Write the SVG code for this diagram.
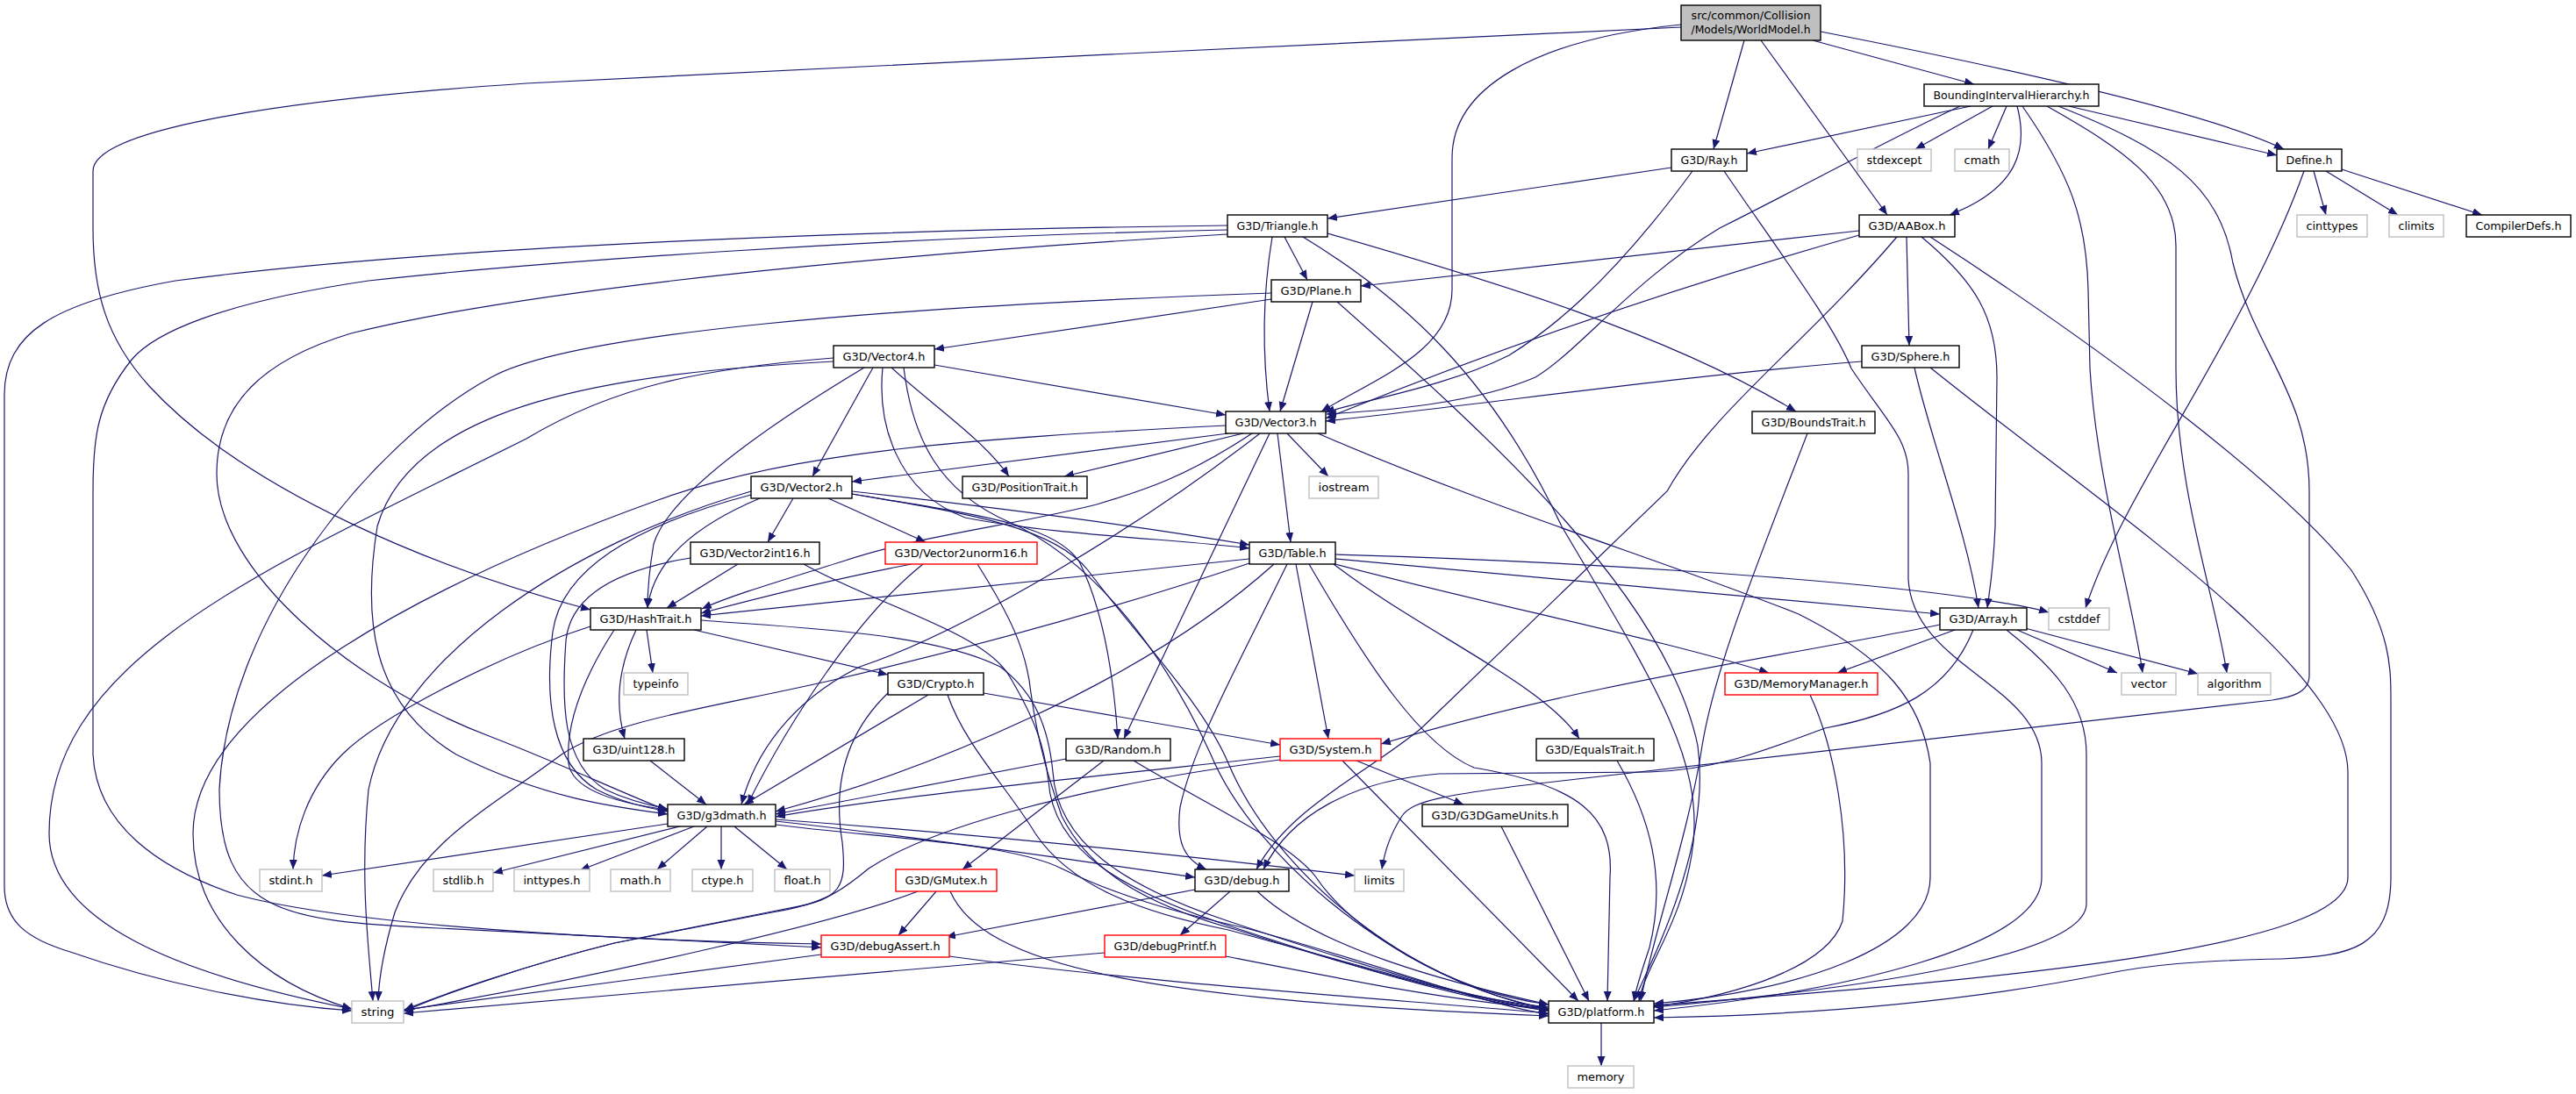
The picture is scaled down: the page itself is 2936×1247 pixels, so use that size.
<svg xmlns="http://www.w3.org/2000/svg" width="2936" height="1247" viewBox="0 0 2936 1247">
<defs>
<marker id="a" markerUnits="userSpaceOnUse" markerWidth="12" markerHeight="10" refX="11" refY="4.5" orient="auto"><path d="M0,0 L11,4.5 L0,9 z" fill="#191970"/></marker>
<style>
.n rect{fill:#fff;stroke:#000;stroke-width:1.4}
.g rect{stroke:#bfbfbf}
.r rect{stroke:#ff0000}
.root rect{fill:#bfbfbf}
text{font-family:"DejaVu Sans Condensed","DejaVu Sans",sans-serif;font-size:13px;text-anchor:middle;fill:#000}
#edges path{fill:none;stroke:#191970;stroke-width:1.2;marker-end:url(#a)}
</style>
</defs>
<rect width="2936" height="1247" fill="#fff"/>
<g id="edges">
<path d="M1916,31 C1500,50 1000,75 600,95 C300,115 106,150 106,195 L106,260 C106,330 120,385 170,440 C280,560 500,650 673,695"/>
<path d="M1988,46 L1953,170"/>
<path d="M2007,46 L2151,245"/>
<path d="M2066,46 L2250,96"/>
<path d="M2075,36 C2300,80 2520,130 2603,170"/>
<path d="M1916,28 C1750,45 1655,100 1655,180 L1655,330 C1655,400 1570,430 1506,469"/>
<path d="M2246,121 L1991,175"/>
<path d="M2234,121 C2150,160 2060,210 1960,260 C1860,320 1800,400 1750,430 C1680,460 1580,468 1512,472"/>
<path d="M2271,121 L2183,170"/>
<path d="M2287,121 L2266,170"/>
<path d="M2299,121 C2312,170 2300,215 2222,245"/>
<path d="M2305,121 C2360,200 2378,250 2380,330 L2382,420 C2390,550 2430,680 2442,767"/>
<path d="M2333,121 C2420,170 2480,210 2480,280 L2480,420 C2480,560 2525,680 2538,767"/>
<path d="M2346,121 C2470,170 2529,210 2545,300 C2570,400 2632,450 2632,560 L2632,770 C2632,790 2610,795 2590,798 L1780,890 C1650,905 1610,912 1598,930 C1585,950 1578,970 1575,991"/>
<path d="M2358,121 L2595,177"/>
<path d="M1905,191 L1513,249"/>
<path d="M1929,195 C1830,330 1760,380 1720,405 C1650,440 1560,455 1510,470"/>
<path d="M1965,195 C2030,290 2090,370 2110,420 C2150,480 2175,500 2175,540 L2175,660 C2180,760 2327,780 2327,870 L2327,1000 C2327,1080 2100,1130 1885,1152"/>
<path d="M1399,257 C1000,262 500,280 200,320 C60,345 5,380 5,450 L5,1010 C5,1050 30,1070 80,1085 C180,1120 300,1145 401,1152"/>
<path d="M1399,262 C1000,270 600,300 420,320 C250,345 175,380 150,410 C110,460 106,500 106,560 L106,860 C110,940 180,990 270,1020 C400,1055 700,1072 936,1076"/>
<path d="M1399,267 C1000,290 600,330 400,380 C300,410 247,460 247,540 C247,650 400,780 560,840 C650,875 700,900 761,924"/>
<path d="M1450,270 C1440,330 1438,400 1447,469"/>
<path d="M1464,270 L1490,319"/>
<path d="M1485,270 C1600,340 1700,430 1780,600 C1880,770 1940,860 1930,960 C1920,1050 1875,1100 1868,1141"/>
<path d="M1513,266 C1700,320 1900,380 2047,469"/>
<path d="M1449,334 C1000,350 650,380 560,430 C430,500 260,700 250,900 C250,1040 320,1050 500,1058 L936,1080"/>
<path d="M1449,341 L1065,398"/>
<path d="M1496,344 L1459,469"/>
<path d="M1524,344 C1700,500 1900,680 1935,850 C1950,960 1890,1080 1862,1141"/>
<path d="M2119,263 L1551,326"/>
<path d="M2119,268 C1900,330 1700,400 1511,477"/>
<path d="M2162,270 C2060,390 1950,470 1900,560 L1620,830 C1560,880 1470,920 1432,991"/>
<path d="M2173,270 L2176,394"/>
<path d="M2190,270 C2250,320 2276,360 2276,430 L2274,600 C2272,650 2268,670 2265,693"/>
<path d="M2200,270 C2400,400 2600,550 2680,650 C2725,720 2725,760 2725,800 L2725,1000 C2725,1080 2680,1090 2600,1093 C2500,1095 2450,1100 2400,1110 C2200,1150 2000,1158 1885,1160"/>
<path d="M2122,412 C1900,430 1700,460 1511,480"/>
<path d="M2182,419 C2200,500 2240,600 2255,693"/>
<path d="M2200,419 C2400,580 2676,760 2676,880 L2676,1000 C2676,1080 2300,1115 1885,1146"/>
<path d="M2637,195 L2651,245"/>
<path d="M2651,195 L2733,245"/>
<path d="M2669,193 L2829,245"/>
<path d="M2626,195 C2560,380 2420,560 2377,693"/>
<path d="M1065,416 L1397,473"/>
<path d="M1016,419 C1060,460 1120,500 1150,543"/>
<path d="M1006,419 C1000,480 1020,560 1100,590 C1200,610 1350,615 1424,625"/>
<path d="M995,419 L926,543"/>
<path d="M985,419 C850,500 760,570 745,620 C740,650 738,670 738,693"/>
<path d="M950,412 C700,425 470,460 430,600 C414,700 420,800 520,860 C620,910 700,920 761,928"/>
<path d="M950,408 C800,420 700,440 600,500 C300,650 56,750 56,950 C56,1050 200,1110 401,1150"/>
<path d="M1030,419 C1040,500 1070,560 1150,595 C1250,640 1330,750 1380,860 C1430,980 1600,1120 1765,1150"/>
<path d="M1397,485 C1100,500 900,515 750,570 C500,660 220,800 220,950 C220,1050 300,1120 401,1150"/>
<path d="M1400,494 L971,549"/>
<path d="M1417,494 L1213,543"/>
<path d="M1427,494 C1350,545 1300,560 1250,575 C1150,600 1050,610 960,640 C880,665 830,680 800,694"/>
<path d="M1436,494 C1300,600 1100,720 980,760 C900,800 860,860 845,917"/>
<path d="M1447,494 L1281,842"/>
<path d="M1456,494 L1471,618"/>
<path d="M1467,494 L1514,543"/>
<path d="M1502,494 C1700,580 1900,640 2050,700 C2150,750 2190,800 2200,870 L2200,1000 C2200,1080 2050,1130 1885,1144"/>
<path d="M971,560 C1150,580 1300,600 1424,621"/>
<path d="M866,568 C790,600 745,640 738,693"/>
<path d="M904,568 L875,618"/>
<path d="M944,568 L1055,618"/>
<path d="M971,563 C1100,585 1200,595 1230,640 C1260,700 1270,780 1274,842"/>
<path d="M856,564 C720,600 640,650 630,720 C620,800 630,870 680,900 C710,915 735,920 761,925"/>
<path d="M856,560 C650,620 450,750 420,900 C410,1000 420,1080 425,1141"/>
<path d="M971,563 C1100,585 1200,600 1240,650 C1300,730 1370,800 1400,870 C1450,990 1600,1120 1765,1150"/>
<path d="M841,643 L760,693"/>
<path d="M787,636 C700,650 650,680 645,730 C640,800 640,870 690,900 C715,912 740,918 761,922"/>
<path d="M916,643 C1000,690 1120,720 1150,770 C1180,820 1190,850 1195,890 C1200,970 1280,1015 1400,1055 C1550,1105 1680,1142 1765,1152"/>
<path d="M1039,643 C950,660 870,680 799,699"/>
<path d="M1052,643 C980,700 900,820 852,917"/>
<path d="M1114,643 C1150,700 1170,740 1175,790 C1185,860 1200,900 1210,930 C1240,990 1300,1030 1410,1060 C1550,1105 1680,1140 1765,1148"/>
<path d="M1424,637 C1200,660 1000,680 799,702"/>
<path d="M1424,642 C1250,700 1100,740 950,775 C820,805 700,820 640,860 C560,920 480,960 450,1040 C438,1080 432,1110 431,1141"/>
<path d="M1452,643 C1300,780 1050,880 884,925"/>
<path d="M1467,643 C1410,760 1360,850 1345,920 C1340,960 1350,980 1375,991"/>
<path d="M1477,643 L1514,842"/>
<path d="M1520,643 C1620,720 1760,780 1800,842"/>
<path d="M1492,643 C1560,760 1620,850 1680,875 C1800,895 1840,930 1835,1000 L1832,1141"/>
<path d="M1522,632 C1800,640 2100,660 2250,682 C2290,688 2315,692 2335,698"/>
<path d="M1522,637 L2211,700"/>
<path d="M1522,643 C1700,690 1900,730 2016,767"/>
<path d="M2211,712 C2050,745 1800,780 1574,848"/>
<path d="M2228,718 L2094,767"/>
<path d="M2249,718 C2220,790 2160,815 2080,830 C2000,860 1950,878 1880,880 L1640,882 C1540,890 1470,930 1440,991"/>
<path d="M2287,718 C2340,760 2378,800 2378,860 L2378,1030 C2378,1080 2200,1120 1885,1148"/>
<path d="M2299,718 L2413,767"/>
<path d="M2308,716 L2505,768"/>
<path d="M791,718 L1012,769"/>
<path d="M737,718 L744,767"/>
<path d="M725,718 C705,760 700,800 712,842"/>
<path d="M673,714 C560,750 430,820 390,860 C350,900 335,950 334,991"/>
<path d="M700,718 C660,780 645,830 648,870 C652,900 700,915 761,923"/>
<path d="M799,707 C900,715 1060,720 1140,760 C1180,790 1195,830 1200,880 C1205,960 1280,1010 1400,1050 C1550,1100 1680,1140 1765,1150"/>
<path d="M1121,790 L1459,849"/>
<path d="M1058,792 L848,917"/>
<path d="M1012,790 C960,840 950,900 960,960 C965,1010 960,1025 900,1035 L700,1075 C600,1100 500,1135 461,1151"/>
<path d="M1080,792 C1100,850 1150,900 1180,950 C1220,1010 1300,1040 1400,1060 C1550,1100 1680,1140 1765,1152"/>
<path d="M2063,792 C2090,850 2110,950 2100,1050 C2080,1110 1950,1140 1885,1147"/>
<path d="M741,867 L805,917"/>
<path d="M1215,865 L884,928"/>
<path d="M1258,867 L1097,991"/>
<path d="M1292,867 C1380,920 1470,960 1500,1000 C1540,1060 1650,1130 1765,1145"/>
<path d="M1459,862 C1200,890 1000,910 884,931"/>
<path d="M1459,866 C1200,900 1050,950 990,990 C960,1015 940,1030 880,1040 L700,1075 C600,1100 500,1135 460,1153"/>
<path d="M1530,867 L1799,1141"/>
<path d="M1546,867 L1668,917"/>
<path d="M1843,867 C1880,930 1900,1000 1880,1080 C1870,1110 1865,1125 1862,1141"/>
<path d="M1711,942 L1811,1141"/>
<path d="M761,939 L367,998"/>
<path d="M775,942 L562,995"/>
<path d="M791,942 L661,992"/>
<path d="M806,942 L749,991"/>
<path d="M822,942 L822,991"/>
<path d="M837,942 L897,991"/>
<path d="M884,936 C1100,960 1250,985 1362,1000"/>
<path d="M884,934 C1100,950 1350,975 1544,998"/>
<path d="M884,940 C1000,955 1150,960 1210,990 C1270,1020 1340,1040 1420,1058 C1560,1095 1700,1148 1765,1156"/>
<path d="M1046,1016 C960,1050 700,1110 460,1152"/>
<path d="M1067,1016 L1024,1066"/>
<path d="M1083,1016 C1120,1100 1300,1140 1765,1158"/>
<path d="M1362,1014 L1078,1068"/>
<path d="M1402,1016 L1345,1066"/>
<path d="M1433,1016 C1500,1080 1650,1120 1765,1145"/>
<path d="M936,1088 L460,1151"/>
<path d="M1082,1090 C1300,1120 1600,1140 1765,1155"/>
<path d="M1259,1086 L460,1155"/>
<path d="M1397,1090 C1550,1120 1650,1140 1765,1150"/>
<path d="M1825,1166 L1825,1215"/>
<path d="M2060,494 C2000,650 1955,760 1940,850 C1925,950 1880,1080 1870,1141"/>
</g>
<g id="root" class="n root"><rect x="1916" y="6" width="159" height="40"/><text x="1995.5" y="22" textLength="136" lengthAdjust="spacingAndGlyphs">src/common/Collision</text><text x="1995.5" y="38" textLength="136" lengthAdjust="spacingAndGlyphs">/Models/WorldModel.h</text></g>
<g id="bih" class="n"><rect x="2193" y="96" width="199" height="25"/><text x="2292.5" y="113" textLength="178" lengthAdjust="spacingAndGlyphs">BoundingIntervalHierarchy.h</text></g>
<g id="ray" class="n"><rect x="1905" y="170" width="86" height="25"/><text x="1948" y="187" textLength="65" lengthAdjust="spacingAndGlyphs">G3D/Ray.h</text></g>
<g id="stdexcept" class="n g"><rect x="2117" y="170" width="84" height="25"/><text x="2159" y="187" textLength="63" lengthAdjust="spacingAndGlyphs">stdexcept</text></g>
<g id="cmath" class="n g"><rect x="2228" y="170" width="62" height="25"/><text x="2259" y="187" textLength="41" lengthAdjust="spacingAndGlyphs">cmath</text></g>
<g id="define" class="n"><rect x="2595" y="170" width="74" height="25"/><text x="2632" y="187" textLength="53" lengthAdjust="spacingAndGlyphs">Define.h</text></g>
<g id="aabox" class="n"><rect x="2119" y="245" width="109" height="25"/><text x="2173.5" y="262" textLength="88" lengthAdjust="spacingAndGlyphs">G3D/AABox.h</text></g>
<g id="cinttypes" class="n g"><rect x="2618" y="245" width="80" height="25"/><text x="2658" y="262" textLength="59" lengthAdjust="spacingAndGlyphs">cinttypes</text></g>
<g id="climits" class="n g"><rect x="2723" y="245" width="62" height="25"/><text x="2754" y="262" textLength="41" lengthAdjust="spacingAndGlyphs">climits</text></g>
<g id="compilerdefs" class="n"><rect x="2811" y="245" width="119" height="25"/><text x="2870.5" y="262" textLength="98" lengthAdjust="spacingAndGlyphs">CompilerDefs.h</text></g>
<g id="triangle" class="n"><rect x="1399" y="245" width="114" height="25"/><text x="1456" y="262" textLength="93" lengthAdjust="spacingAndGlyphs">G3D/Triangle.h</text></g>
<g id="plane" class="n"><rect x="1449" y="319" width="102" height="25"/><text x="1500" y="336" textLength="81" lengthAdjust="spacingAndGlyphs">G3D/Plane.h</text></g>
<g id="sphere" class="n"><rect x="2122" y="394" width="111" height="25"/><text x="2177.5" y="411" textLength="90" lengthAdjust="spacingAndGlyphs">G3D/Sphere.h</text></g>
<g id="vector4" class="n"><rect x="950" y="394" width="115" height="25"/><text x="1007.5" y="411" textLength="94" lengthAdjust="spacingAndGlyphs">G3D/Vector4.h</text></g>
<g id="vector3" class="n"><rect x="1397" y="469" width="114" height="25"/><text x="1454" y="486" textLength="93" lengthAdjust="spacingAndGlyphs">G3D/Vector3.h</text></g>
<g id="boundstrait" class="n"><rect x="1997" y="469" width="140" height="25"/><text x="2067" y="486" textLength="119" lengthAdjust="spacingAndGlyphs">G3D/BoundsTrait.h</text></g>
<g id="positiontrait" class="n"><rect x="1097" y="543" width="142" height="25"/><text x="1168" y="560" textLength="121" lengthAdjust="spacingAndGlyphs">G3D/PositionTrait.h</text></g>
<g id="iostream" class="n g"><rect x="1492" y="543" width="79" height="25"/><text x="1531.5" y="560" textLength="58" lengthAdjust="spacingAndGlyphs">iostream</text></g>
<g id="vector2" class="n"><rect x="856" y="543" width="115" height="25"/><text x="913.5" y="560" textLength="94" lengthAdjust="spacingAndGlyphs">G3D/Vector2.h</text></g>
<g id="vector2int16" class="n"><rect x="787" y="618" width="147" height="25"/><text x="860.5" y="635" textLength="126" lengthAdjust="spacingAndGlyphs">G3D/Vector2int16.h</text></g>
<g id="vector2unorm16" class="n r"><rect x="1009" y="618" width="173" height="25"/><text x="1095.5" y="635" textLength="152" lengthAdjust="spacingAndGlyphs">G3D/Vector2unorm16.h</text></g>
<g id="table" class="n"><rect x="1424" y="618" width="98" height="25"/><text x="1473" y="635" textLength="77" lengthAdjust="spacingAndGlyphs">G3D/Table.h</text></g>
<g id="cstddef" class="n g"><rect x="2335" y="693" width="69" height="25"/><text x="2369.5" y="710" textLength="48" lengthAdjust="spacingAndGlyphs">cstddef</text></g>
<g id="array" class="n"><rect x="2211" y="693" width="99" height="25"/><text x="2260.5" y="710" textLength="78" lengthAdjust="spacingAndGlyphs">G3D/Array.h</text></g>
<g id="hashtrait" class="n"><rect x="673" y="693" width="126" height="25"/><text x="736" y="710" textLength="105" lengthAdjust="spacingAndGlyphs">G3D/HashTrait.h</text></g>
<g id="typeinfo" class="n g"><rect x="711" y="767" width="73" height="25"/><text x="747.5" y="784" textLength="52" lengthAdjust="spacingAndGlyphs">typeinfo</text></g>
<g id="crypto" class="n"><rect x="1012" y="767" width="109" height="25"/><text x="1066.5" y="784" textLength="88" lengthAdjust="spacingAndGlyphs">G3D/Crypto.h</text></g>
<g id="memorymanager" class="n r"><rect x="1966" y="767" width="174" height="25"/><text x="2053" y="784" textLength="153" lengthAdjust="spacingAndGlyphs">G3D/MemoryManager.h</text></g>
<g id="vector" class="n g"><rect x="2418" y="767" width="62" height="25"/><text x="2449" y="784" textLength="41" lengthAdjust="spacingAndGlyphs">vector</text></g>
<g id="algorithm" class="n g"><rect x="2505" y="767" width="83" height="25"/><text x="2546.5" y="784" textLength="62" lengthAdjust="spacingAndGlyphs">algorithm</text></g>
<g id="uint128" class="n"><rect x="665" y="842" width="115" height="25"/><text x="722.5" y="859" textLength="94" lengthAdjust="spacingAndGlyphs">G3D/uint128.h</text></g>
<g id="random" class="n"><rect x="1215" y="842" width="119" height="25"/><text x="1274.5" y="859" textLength="98" lengthAdjust="spacingAndGlyphs">G3D/Random.h</text></g>
<g id="system" class="n r"><rect x="1459" y="842" width="115" height="25"/><text x="1516.5" y="859" textLength="94" lengthAdjust="spacingAndGlyphs">G3D/System.h</text></g>
<g id="equalstrait" class="n"><rect x="1751" y="842" width="134" height="25"/><text x="1818" y="859" textLength="113" lengthAdjust="spacingAndGlyphs">G3D/EqualsTrait.h</text></g>
<g id="g3dmath" class="n"><rect x="761" y="917" width="123" height="25"/><text x="822.5" y="934" textLength="102" lengthAdjust="spacingAndGlyphs">G3D/g3dmath.h</text></g>
<g id="g3dgameunits" class="n"><rect x="1621" y="917" width="166" height="25"/><text x="1704" y="934" textLength="145" lengthAdjust="spacingAndGlyphs">G3D/G3DGameUnits.h</text></g>
<g id="stdint" class="n g"><rect x="296" y="991" width="71" height="25"/><text x="331.5" y="1008" textLength="50" lengthAdjust="spacingAndGlyphs">stdint.h</text></g>
<g id="stdlib" class="n g"><rect x="494" y="991" width="68" height="25"/><text x="528" y="1008" textLength="47" lengthAdjust="spacingAndGlyphs">stdlib.h</text></g>
<g id="inttypes" class="n g"><rect x="586" y="991" width="86" height="25"/><text x="629" y="1008" textLength="65" lengthAdjust="spacingAndGlyphs">inttypes.h</text></g>
<g id="math" class="n g"><rect x="696" y="991" width="68" height="25"/><text x="730" y="1008" textLength="47" lengthAdjust="spacingAndGlyphs">math.h</text></g>
<g id="ctype" class="n g"><rect x="789" y="991" width="69" height="25"/><text x="823.5" y="1008" textLength="48" lengthAdjust="spacingAndGlyphs">ctype.h</text></g>
<g id="float" class="n g"><rect x="883" y="991" width="63" height="25"/><text x="914.5" y="1008" textLength="42" lengthAdjust="spacingAndGlyphs">float.h</text></g>
<g id="gmutex" class="n r"><rect x="1021" y="991" width="115" height="25"/><text x="1078.5" y="1008" textLength="94" lengthAdjust="spacingAndGlyphs">G3D/GMutex.h</text></g>
<g id="debug" class="n"><rect x="1362" y="991" width="107" height="25"/><text x="1415.5" y="1008" textLength="86" lengthAdjust="spacingAndGlyphs">G3D/debug.h</text></g>
<g id="limits" class="n g"><rect x="1544" y="991" width="56" height="25"/><text x="1572" y="1008" textLength="35" lengthAdjust="spacingAndGlyphs">limits</text></g>
<g id="debugassert" class="n r"><rect x="936" y="1066" width="146" height="25"/><text x="1009" y="1083" textLength="125" lengthAdjust="spacingAndGlyphs">G3D/debugAssert.h</text></g>
<g id="debugprintf" class="n r"><rect x="1259" y="1066" width="138" height="25"/><text x="1328" y="1083" textLength="117" lengthAdjust="spacingAndGlyphs">G3D/debugPrintf.h</text></g>
<g id="string" class="n g"><rect x="401" y="1141" width="59" height="25"/><text x="430.5" y="1158" textLength="38" lengthAdjust="spacingAndGlyphs">string</text></g>
<g id="platform" class="n"><rect x="1765" y="1141" width="120" height="25"/><text x="1825" y="1158" textLength="99" lengthAdjust="spacingAndGlyphs">G3D/platform.h</text></g>
<g id="memory" class="n g"><rect x="1787" y="1215" width="75" height="25"/><text x="1824.5" y="1232" textLength="54" lengthAdjust="spacingAndGlyphs">memory</text></g>
</svg>
